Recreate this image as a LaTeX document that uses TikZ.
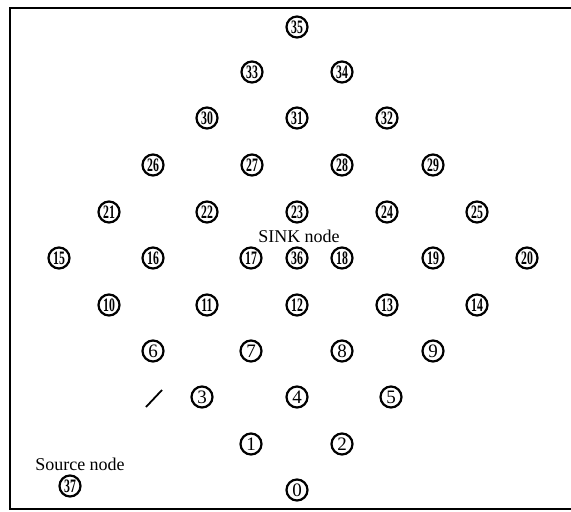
\documentclass[tikz,border=0pt]{standalone}
\usepackage{fontspec}
\setmainfont{Liberation Serif}
\newcommand{\twodig}[1]{\scalebox{0.62}[1]{\bfseries #1}}

\begin{document}
\begin{tikzpicture}[x=1pt, y=-1pt,
    every node/.style={font=\fontsize{18}{18}\selectfont},
    sensor/.style={circle, draw, line width=2.2pt, inner sep=0pt, minimum size=21pt, font=\fontsize{19}{19}\selectfont}]
    \useasboundingbox (0,0) rectangle (571,512);
    \draw[line width=2.2pt] (600,8) -- (10,8) -- (10,509) -- (600,509);
    % top of the diamond
    \node[sensor] (n35) at (297,27) {\twodig{35}};
    \node[sensor] (n33) at (252,72) {\twodig{33}};
    \node[sensor] (n34) at (342,72) {\twodig{34}};
    \node[sensor] (n30) at (207,118) {\twodig{30}};
    \node[sensor] (n31) at (297,118) {\twodig{31}};
    \node[sensor] (n32) at (387,118) {\twodig{32}};
    \node[sensor] (n26) at (153,165) {\twodig{26}};
    \node[sensor] (n27) at (252,165) {\twodig{27}};
    \node[sensor] (n28) at (342,165) {\twodig{28}};
    \node[sensor] (n29) at (433,165) {\twodig{29}};
    \node[sensor] (n21) at (109,212) {\twodig{21}};
    \node[sensor] (n22) at (207,212) {\twodig{22}};
    \node[sensor] (n23) at (297,212) {\twodig{23}};
    \node[sensor] (n24) at (387,212) {\twodig{24}};
    \node[sensor] (n25) at (477,212) {\twodig{25}};
    % middle row with the sink
    \node (sink) at (299,236) {SINK node};
    \node[sensor] (n15) at (59,258) {\twodig{15}};
    \node[sensor] (n16) at (153,258) {\twodig{16}};
    \node[sensor] (n17) at (251,258) {\twodig{17}};
    \node[sensor] (n36) at (297,258) {\twodig{36}};
    \node[sensor] (n18) at (342,258) {\twodig{18}};
    \node[sensor] (n19) at (433,258) {\twodig{19}};
    \node[sensor] (n20) at (527,258) {\twodig{20}};
    \node[sensor] (n10) at (109,305) {\twodig{10}};
    \node[sensor] (n11) at (207,305) {\twodig{11}};
    \node[sensor] (n12) at (297,305) {\twodig{12}};
    \node[sensor] (n13) at (387,305) {\twodig{13}};
    \node[sensor] (n14) at (477,305) {\twodig{14}};
    % bottom of the diamond
    \node[sensor] (n6) at (153,351) {6};
    \node[sensor] (n7) at (251,351) {7};
    \node[sensor] (n8) at (342,351) {8};
    \node[sensor] (n9) at (433,351) {9};
    \node[sensor] (n3) at (202,397) {3};
    \node[sensor] (n4) at (297,397) {4};
    \node[sensor] (n5) at (391,397) {5};
    \node[sensor] (n1) at (251,444) {1};
    \node[sensor] (n2) at (342,444) {2};
    \node[sensor] (n0) at (297,490) {0};
    % source
    \node (source) at (80,464) {Source node};
    \node[sensor] (n37) at (70,486) {\twodig{37}};
    \coordinate (tickA) at (146,407);
    \coordinate (tickB) at (162,390);
    \draw[line width=1.8pt] (tickA) -- (tickB);
\end{tikzpicture}
\end{document}
